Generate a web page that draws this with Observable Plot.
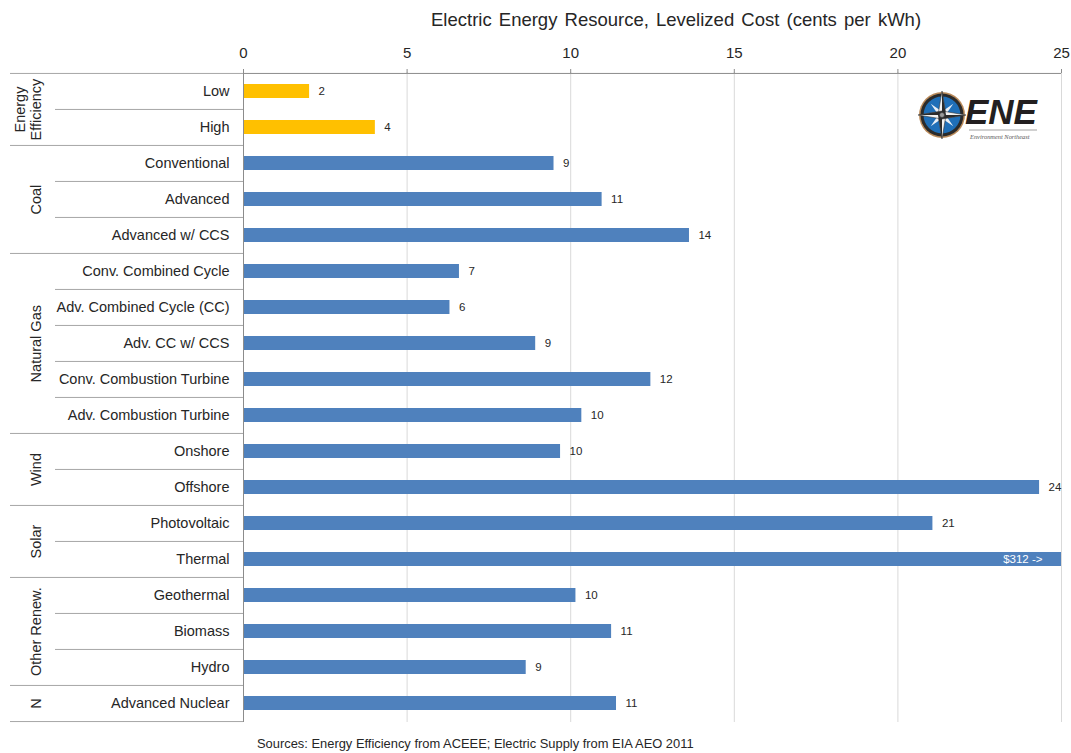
<!DOCTYPE html>
<html>
<head>
<meta charset="utf-8">
<script src="https://cdn.jsdelivr.net/npm/d3@7"></script>
<script src="https://cdn.jsdelivr.net/npm/@observablehq/plot@0.6"></script>
<style>
  html, body { margin: 0; padding: 0; background: #fff; }
  #wrap { position: relative; width: 1071px; height: 753px; font-family: "Liberation Sans", Arial, sans-serif; color: #262626; }
  #title { position: absolute; left: 431px; top: 9px; font-size: 18.5px; white-space: nowrap; word-spacing: 2px; }
  #chart { position: absolute; left: 0; top: 36px; }
  #logo { position: absolute; left: 912px; top: 86px; }
  #caption { position: absolute; left: 257px; top: 736px; font-size: 12.9px; white-space: nowrap; color: #262626; }
</style>
</head>
<body>
<div id="wrap">
  <div id="title">Electric Energy Resource, Levelized Cost (cents per kWh)</div>
  <div id="chart"></div>
  <svg id="logo" width="150" height="64" viewBox="0 0 150 64">
    <circle cx="30" cy="29" r="23" fill="#b98a5a"/>
    <circle cx="30" cy="29" r="21.5" fill="#2b2b2b"/>
    <circle cx="30" cy="29" r="18.5" fill="#1f6fb8"/>
    <g transform="translate(30,29)">
      <g transform="rotate(45)">
        <polygon points="0,-16 3,0 0,16 -3,0" fill="#e8eef5"/>
        <polygon points="-16,0 0,3 16,0 0,-3" fill="#e8eef5"/>
      </g>
      <polygon points="0,-24 4,0 0,24 -4,0" fill="#f2f2f2" stroke="#333" stroke-width="0.6"/>
      <polygon points="-24,0 0,4 24,0 0,-4" fill="#f2f2f2" stroke="#333" stroke-width="0.6"/>
      <polygon points="0,-24 4,0 0,0" fill="#2b2b2b"/>
      <polygon points="0,24 -4,0 0,0" fill="#2b2b2b"/>
      <polygon points="24,0 0,4 0,0" fill="#2b2b2b"/>
      <polygon points="-24,0 0,-4 0,0" fill="#2b2b2b"/>
      <circle r="2.5" fill="#9a9a9a" stroke="#333" stroke-width="0.6"/>
    </g>
    <text x="53" y="38" font-family="Liberation Sans, Arial, sans-serif" font-size="35" font-weight="bold" font-style="italic" fill="#231f20">ENE</text>
    <line x1="57" y1="44" x2="125" y2="44" stroke="#8a8a8a" stroke-width="0.8"/>
    <text x="58" y="52.5" font-family="Liberation Serif, serif" font-style="italic" font-size="6.4" fill="#555">Environment Northeast</text>
  </svg>
  <div id="caption">Sources: Energy Efficiency from ACEEE; Electric Supply from EIA AEO 2011</div>
</div>
<script>
// Resource categories, top to bottom
const categories = [
  "Low", "High",
  "Conventional", "Advanced", "Advanced w/ CCS",
  "Conv. Combined Cycle", "Adv. Combined Cycle (CC)", "Adv. CC w/ CCS",
  "Conv. Combustion Turbine", "Adv. Combustion Turbine",
  "Onshore", "Offshore",
  "Photovoltaic", "Thermal",
  "Geothermal", "Biomass", "Hydro",
  "Advanced Nuclear"
];

// Group each category belongs to
const groupOf = [
  "Energy\nEfficiency", "Energy\nEfficiency",
  "Coal", "Coal", "Coal",
  "Natural Gas", "Natural Gas", "Natural Gas", "Natural Gas", "Natural Gas",
  "Wind", "Wind",
  "Solar", "Solar",
  "Other Renew.", "Other Renew.", "Other Renew.",
  "N"
];

// Levelized cost, cents per kWh
const costs = [
  2.02, 4.03,
  9.49, 10.96, 13.63,
  6.60, 6.31, 8.93, 12.45, 10.34,
  9.69, 24.33,
  21.07, 312,
  10.16, 11.25, 8.64,
  11.40
];

// Axis ticks along the top
const xTicks = [0, 5, 10, 15, 20, 25];
const gridTicks = [5, 10, 15, 20, 25];

const rows = categories.map((c, i) => ({category: c, group: groupOf[i], cost: costs[i]}));

const groups = Array.from(new Set(groupOf)).map(g => {
  const members = rows.filter(r => r.group === g);
  return {group: g, first: members[0].category, last: members[members.length - 1].category, n: members.length};
});

const width = 1071, height = 694;
const marginTop = 36, marginBottom = 8, marginLeft = 243, marginRight = 10;
const step = (height - marginTop - marginBottom) / categories.length;

const lineColor = "#8c8c8c";
const sepColor = "#a6a6a6";
const blue = "#4f81bd", gold = "#ffc000";

const firstOfGroup = new Set(groups.map(g => g.first));
const innerBoundaries = categories.filter(c => !firstOfGroup.has(c));
const groupBoundaries = categories.filter(c => firstOfGroup.has(c));
const lastCategory = categories[categories.length - 1];

const fmt = d3.format(".0f");

// Rotated group names, centred on each group's rows
const groupLabelMarks = groups.map(g => {
  const lines = g.group.split("\n").length;
  return Plot.text([g], {
    y: d => d.first,
    text: d => d.group,
    frameAnchor: "left",
    textAnchor: "middle",
    lineAnchor: "middle",
    dx: -208 - (lines - 1) * 7.8,
    dy: (g.n - 1) * step / 2,
    rotate: -90,
    fontSize: 14.5,
    lineHeight: 1.1,
    fill: "#262626"
  });
});

const chart = Plot.plot({
  width, height, marginTop, marginBottom, marginLeft, marginRight,
  style: {fontFamily: "Liberation Sans, Arial, sans-serif", background: "white"},
  x: {domain: [0, 25], clamp: true, axis: null, label: null},
  y: {domain: categories, paddingInner: 0.61, paddingOuter: 0.305, align: 0.5, axis: null, label: null},
  marks: [
    Plot.gridX(gridTicks, {stroke: "#d9d9d9", strokeOpacity: 1}),
    Plot.barX(rows.filter(d => d.group === "Energy\nEfficiency"), {x: "cost", y: "category", fill: gold}),
    Plot.barX(rows.filter(d => d.group !== "Energy\nEfficiency"), {x: "cost", y: "category", fill: blue}),
    Plot.text(rows.filter(d => d.cost <= 25), {
      x: "cost", y: "category", text: d => fmt(d.cost),
      textAnchor: "start", dx: 9, fontSize: 11.5, fill: "#262626"
    }),
    Plot.text(rows.filter(d => d.cost > 25), {
      x: "cost", y: "category", text: d => `$${d.cost} ->`,
      textAnchor: "end", dx: -19, fontSize: 11.5, fill: "white"
    }),
    // top axis line and left axis line
    Plot.ruleY([categories[0]], {y: d => d, dy: -step / 2, stroke: lineColor}),
    Plot.ruleX([0], {stroke: lineColor}),
    Plot.axisX({
      anchor: "top", ticks: xTicks, tickSize: 4, tickPadding: 11, label: null,
      fontSize: 15, stroke: lineColor, color: "#262626"
    }),
    // separators between categories within a group
    Plot.axisY({
      ticks: innerBoundaries, tickSize: 188, tickFormat: () => "", label: null,
      dy: -step / 2, stroke: sepColor, strokeOpacity: 1
    }),
    // separators between groups
    Plot.axisY({
      ticks: groupBoundaries, tickSize: 233, tickFormat: () => "", label: null,
      dy: -step / 2, stroke: sepColor, strokeOpacity: 1
    }),
    Plot.axisY({
      ticks: [lastCategory], tickSize: 233, tickFormat: () => "", label: null,
      dy: step / 2, stroke: sepColor, strokeOpacity: 1
    }),
    // category labels
    Plot.axisY({
      ticks: categories, tickSize: 0, tickPadding: 14, label: null,
      fontSize: 14.5, color: "#262626"
    }),
    ...groupLabelMarks
  ]
});

document.getElementById("chart").appendChild(chart);
</script>
</body>
</html>
